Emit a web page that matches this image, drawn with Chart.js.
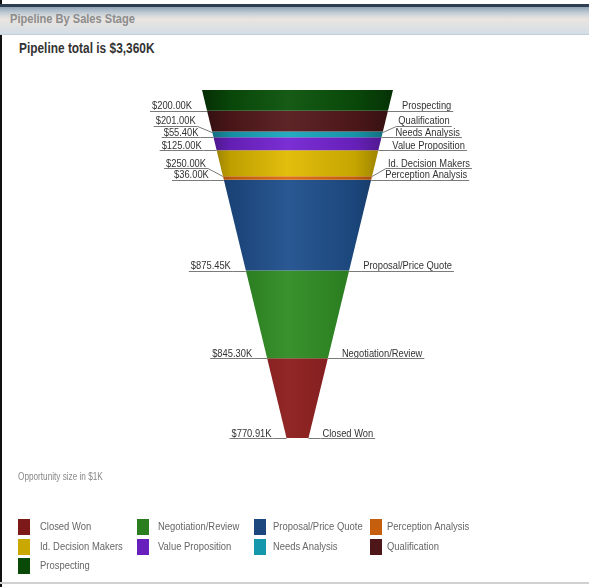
<!DOCTYPE html>
<html>
<head>
<meta charset="utf-8">
<script src="https://cdn.jsdelivr.net/npm/chart.js@4/dist/chart.umd.min.js"></script>
<style>
  html, body { margin:0; padding:0; background:#fff; }
  body { width:589px; height:587px; position:relative; overflow:hidden;
         font-family:"Liberation Sans",Arial,sans-serif; }
  .nar { display:inline-block; transform:scaleX(0.82); transform-origin:0 0; white-space:nowrap; }
  #leftBorder { position:absolute; left:0; top:0; width:2px; height:587px; background:#111; }
  #topLine { position:absolute; left:0; top:4px; width:589px; height:3px; background:#2d3f50; }
  #header { position:absolute; left:0; top:7px; width:589px; height:27px;
            background:linear-gradient(to bottom,#8ea3b6 0%,#c9d2d8 25%,#e9e4e0 45%,#e2e2e2 65%,#d3dde6 100%);
            border-bottom:1px solid #c4cfd8; }
  #header span { position:absolute; left:10px; top:4px; font-size:13.5px; font-weight:bold; color:#8c8c8c; }
  #title { position:absolute; left:19px; top:40px; font-size:14.5px; font-weight:bold; color:#333; }
  #note { position:absolute; left:18px; top:471px; font-size:10px; color:#888; }
  #bottomLine { position:absolute; left:0; top:582px; width:589px; height:2px; background:#d0d0d0; }
  #chartWrap { position:absolute; left:0; top:0; width:589px; height:587px; }
  #legend { position:absolute; left:18px; top:519px; width:560px; }
  .li { position:absolute; height:17px; font-size:11.5px; color:#666; white-space:nowrap; }
  .li i { position:absolute; left:0; top:0; width:12px; height:16px; }
  .li b { position:absolute; top:1px; font-weight:normal; }
</style>
</head>
<body>
<div id="leftBorder"></div>
<div id="topLine"></div>
<div id="header"><span class="nar">Pipeline By Sales Stage</span></div>
<div id="title" class="nar"></div>
<div id="chartWrap"><canvas id="c"></canvas></div>
<div id="note" class="nar">Opportunity size in $1K</div>
<div id="legend"></div>
<div id="bottomLine"></div>
<script>
// ---- DATA (funnel order, top to bottom) ----
const stages = ['Prospecting','Qualification','Needs Analysis','Value Proposition','Id. Decision Makers',
                'Perception Analysis','Proposal/Price Quote','Negotiation/Review','Closed Won'];
const values = [200.00, 201.00, 55.40, 125.00, 250.00, 36.00, 875.45, 845.30, 770.91];
const colors = ['#0a520a','#561a1c','#1aa8be','#7424d2','#e0bb00','#dc6a0e','#1f4f8c','#2f8c22','#8c1c1c'];
const totalLabel = '$3,360K';

document.getElementById('title').textContent = 'Pipeline total is ' + totalLabel;

// ---- geometry / style constants ----
const TIP = 0.115;          // half-width at the tip relative to the top half-width
const XR = 291.5 / 95.5;    // x range so that top half-width spans 95.5px
const total = values.reduce((a, b) => a + b, 0);
const halfW = y => TIP + (1 - TIP) * y / total;

// cumulative bounds from bottom
const bounds = [];
{
  let acc = 0;
  for (let i = values.length - 1; i >= 0; i--) {
    bounds[i] = { lo: acc, hi: acc + values[i] };
    acc += values[i];
  }
}

function shade(hex, f) {
  const n = parseInt(hex.slice(1), 16);
  let r = (n >> 16) & 255, g = (n >> 8) & 255, b = n & 255;
  const m = v => Math.max(0, Math.min(255, Math.round(f >= 1 ? v + (255 - v) * (f - 1) : v * f)));
  return `rgb(${m(r)},${m(g)},${m(b)})`;
}

const datasets = stages.map((s, i) => {
  const { lo, hi } = bounds[i];
  return {
    label: s,
    data: [
      { x: -halfW(hi), y: hi }, { x: halfW(hi), y: hi },
      { x: halfW(lo), y: lo }, { x: -halfW(lo), y: lo }
    ],
    fill: 'shape',
    borderWidth: 0,
    borderColor: 'rgba(0,0,0,0)',
    pointRadius: 0,
    tension: 0,
    backgroundColor: (ctx) => {
      const chart = ctx.chart;
      const c = colors[i];
      if (!chart.chartArea || !chart.scales.x) return c;
      const xs = chart.scales.x;
      const g = chart.ctx.createLinearGradient(xs.getPixelForValue(-1), 0, xs.getPixelForValue(1), 0);
      g.addColorStop(0, shade(c, 0.55));
      g.addColorStop(0.15, shade(c, 0.85));
      g.addColorStop(0.45, shade(c, 1.05));
      g.addColorStop(0.8, shade(c, 0.88));
      g.addColorStop(1, shade(c, 0.6));
      return g;
    }
  };
});

const labelPlugin = {
  id: 'funnelLabels',
  afterDatasetsDraw(chart) {
    const { ctx, scales: { x, y } } = chart;
    const SX = 0.82;
    ctx.save();
    ctx.font = '11.4px "Liberation Sans",Arial,sans-serif';
    ctx.textBaseline = 'alphabetic';
    let prev = Infinity;
    for (let i = stages.length - 1; i >= 0; i--) {
      const lo = bounds[i].lo;
      const by = y.getPixelForValue(lo);
      let ly = Math.min(by, prev - 11.5);
      prev = ly;
      const xl = x.getPixelForValue(-halfW(lo));
      const xr = x.getPixelForValue(halfW(lo));
      const lyVal = y.getValueForPixel(ly);
      const xlL = x.getPixelForValue(-halfW(lyVal));
      const xrL = x.getPixelForValue(halfW(lyVal));
      const vText = '$' + values[i].toFixed(2) + 'K';
      const sText = stages[i];
      const vw = ctx.measureText(vText).width * SX;
      const sw = ctx.measureText(sText).width * SX;
      const lx1 = xlL - 15;           // right end of value text
      const rx0 = xrL + 14;           // start of stage text
      ctx.fillStyle = '#333';
      ctx.textAlign = 'left';
      ctx.save(); ctx.translate(lx1 - vw, ly - 1.5); ctx.scale(SX, 1); ctx.fillText(vText, 0, 0); ctx.restore();
      ctx.save(); ctx.translate(rx0, ly - 1.5); ctx.scale(SX, 1); ctx.fillText(sText, 0, 0); ctx.restore();
      ctx.strokeStyle = '#7a7a7a';
      ctx.lineWidth = 1;
      ctx.beginPath();
      const yy = Math.round(ly) + 0.5;
      ctx.moveTo(lx1 - vw - 2, yy);
      ctx.lineTo(lx1 + 2, yy);
      ctx.lineTo(xl, Math.round(by) + 0.5);
      ctx.moveTo(rx0 + sw + 2, yy);
      ctx.lineTo(rx0 - 2, yy);
      ctx.lineTo(xr, Math.round(by) + 0.5);
      ctx.stroke();
    }
    ctx.restore();
  }
};

new Chart(document.getElementById('c'), {
  type: 'line',
  data: { datasets },
  options: {
    responsive: true,
    maintainAspectRatio: false,
    animation: false,
    layout: { padding: { left: 6, right: 0, top: 90, bottom: 149 } },
    scales: {
      x: { type: 'linear', min: -XR, max: XR, display: false },
      y: { type: 'linear', min: 0, max: total, display: false }
    },
    plugins: { legend: { display: false }, tooltip: { enabled: false } }
  },
  plugins: [labelPlugin]
});

// ---- HTML legend (reverse funnel order, 4 columns) ----
const legendCols = [0, 119, 236, 352];
const legendTextOff = [22, 21, 19, 17];
const legend = document.getElementById('legend');
for (let k = 0; k < stages.length; k++) {
  const i = stages.length - 1 - k;
  const col = k % 4, row = Math.floor(k / 4);
  const d = document.createElement('div');
  d.className = 'li';
  d.style.left = legendCols[col] + 'px';
  d.style.top = (row * 19.5) + 'px';
  d.innerHTML = `<i style="background:${shade(colors[i], 0.9)}"></i><b class="nar" style="left:${legendTextOff[col]}px"></b>`;
  d.querySelector('b').textContent = stages[i];
  legend.appendChild(d);
}
</script>
</body>
</html>
